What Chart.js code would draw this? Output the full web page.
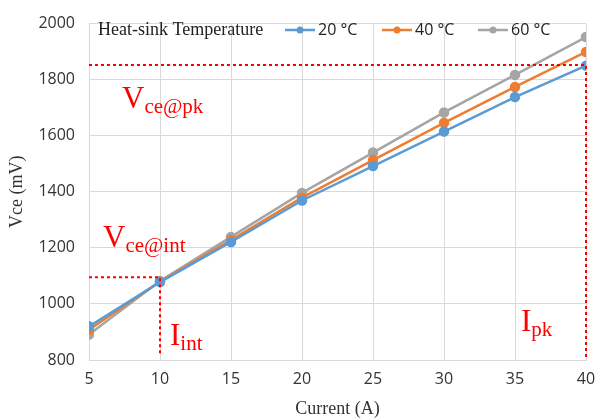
<!DOCTYPE html>
<html>
<head>
<meta charset="utf-8">
<script src="https://cdn.jsdelivr.net/npm/chart.js@4/dist/chart.umd.min.js"></script>
<style>
  html, body { margin: 0; padding: 0; background: #fff; }
  #wrap { width: 596px; height: 420px; }
</style>
</head>
<body>
<div id="wrap"><canvas id="canvas" width="596" height="420"></canvas></div>
<script>
var currents = [5, 10, 15, 20, 25, 30, 35, 40];
var vce20 = [920, 1078, 1221, 1369, 1492, 1615, 1738, 1850];
var vce40 = [908, 1080, 1228, 1379, 1513, 1646, 1774, 1899];
var vce60 = [891, 1082, 1239, 1396, 1540, 1683, 1817, 1952];
var seriesNames = ['20 °C', '40 °C', '60 °C'];
var seriesColors = ['#5B9BD5', '#ED7D31', '#A5A5A5'];
var xTicks = [5, 10, 15, 20, 25, 30, 35, 40];
var yTicks = [800, 1000, 1200, 1400, 1600, 1800, 2000];
// marker lines: [current, vce]
var intPoint = [10, 1095];
var pkPoint = [40, 1852];

var tickFont = { family: 'Open Sans', size: 16 };
var serif = 'Liberation Serif';

function pts(ys) {
	return currents.map(function(c, i) { return { x: c, y: ys[i] }; });
}

function subText(ctx, x, y, main, sub) {
	ctx.font = '31px "' + serif + '"';
	ctx.fillText(main, x, y);
	var w = ctx.measureText(main).width;
	ctx.font = '21px "' + serif + '"';
	ctx.fillText(sub, x + w, y + 5);
}

var overlay = {
	id: 'overlay',
	afterDatasetsDraw: function(chart) {
		var ctx = chart.ctx;
		var xs = chart.scales.x, ys = chart.scales.y;
		ctx.save();
		ctx.strokeStyle = '#FF0000';
		ctx.lineWidth = 2;
		ctx.setLineDash([3, 3]);
		var x0 = xs.getPixelForValue(5);
		var xi = xs.getPixelForValue(intPoint[0]), yi = ys.getPixelForValue(intPoint[1]);
		var xp = xs.getPixelForValue(pkPoint[0]), yp = ys.getPixelForValue(pkPoint[1]);
		var yb = ys.getPixelForValue(800);
		ctx.beginPath();
		ctx.moveTo(x0, yi); ctx.lineTo(xi, yi); ctx.lineTo(xi, yb - 4);
		ctx.moveTo(x0, yp); ctx.lineTo(xp, yp); ctx.lineTo(xp, yb);
		ctx.stroke();
		ctx.setLineDash([]);

		ctx.fillStyle = '#FF0000';
		ctx.textBaseline = 'alphabetic';
		ctx.textAlign = 'left';
		subText(ctx, 122, 108, 'V', 'ce@pk');
		subText(ctx, 103, 247, 'V', 'ce@int');
		subText(ctx, 170, 345, 'I', 'int');
		subText(ctx, 521, 331, 'I', 'pk');

		// legend
		ctx.fillStyle = '#222';
		ctx.font = '18px "' + serif + '"';
		ctx.textBaseline = 'middle';
		ctx.fillText('Heat-sink Temperature', 98, 30);
		var lx = [285, 382, 478];
		for (var i = 0; i < 3; i++) {
			ctx.strokeStyle = seriesColors[i];
			ctx.lineWidth = 2.5;
			ctx.beginPath();
			ctx.moveTo(lx[i], 30); ctx.lineTo(lx[i] + 30, 30);
			ctx.stroke();
			ctx.fillStyle = seriesColors[i];
			ctx.beginPath();
			ctx.arc(lx[i] + 15, 30, 3.5, 0, Math.PI * 2);
			ctx.fill();
			ctx.fillStyle = '#222';
			ctx.font = '16px "Open Sans"';
			ctx.fillText(seriesNames[i], lx[i] + 33, 30);
		}
		ctx.restore();
	}
};

var config = {
	type: 'line',
	data: {
		datasets: [vce20, vce40, vce60].map(function(ys, i) {
			return {
				label: seriesNames[i],
				data: pts(ys),
				borderColor: seriesColors[i],
				backgroundColor: seriesColors[i],
				pointBackgroundColor: seriesColors[i],
				pointBorderColor: seriesColors[i],
				pointRadius: 4,
				borderWidth: 2.5,
				tension: 0
			};
		})
	},
	options: {
		responsive: false,
		animation: false,
		layout: { padding: { top: 9, right: 0, left: 6, bottom: 0 } },
		plugins: {
			legend: { display: false },
			tooltip: { enabled: false }
		},
		scales: {
			x: {
				type: 'linear',
				min: 5, max: 40,
				afterBuildTicks: function(s) { s.ticks = xTicks.map(function(v) { return { value: v }; }); },
				afterFit: function(s) { s.height = 60; s.paddingRight = 10; s.paddingLeft = 0; },
				grid: { color: '#d9d9d9', drawTicks: false },
				border: { color: '#d9d9d9' },
				ticks: { font: tickFont, color: '#333', padding: 10, maxRotation: 0, callback: function(v) { return String(v); } },
				title: { display: true, text: 'Current (A)', font: { family: serif, size: 18 }, color: '#333', padding: { top: 0, bottom: 0 } }
			},
			y: {
				min: 800, max: 2000,
				afterBuildTicks: function(s) { s.ticks = yTicks.map(function(v) { return { value: v }; }); },
				afterFit: function(s) { s.width = 83; },
				grid: { color: '#d9d9d9', drawTicks: false },
				border: { color: '#d9d9d9' },
				ticks: { font: tickFont, color: '#333', padding: 14, callback: function(v) { return String(v); } },
				title: { display: true, text: 'Vce (mV)', font: { family: serif, size: 18 }, color: '#333', padding: { top: 0, bottom: 4 } }
			}
		}
	},
	plugins: [overlay]
};

window.onload = function() {
	window.myChart = new Chart(document.getElementById('canvas'), config);
};
</script>
</body>
</html>
